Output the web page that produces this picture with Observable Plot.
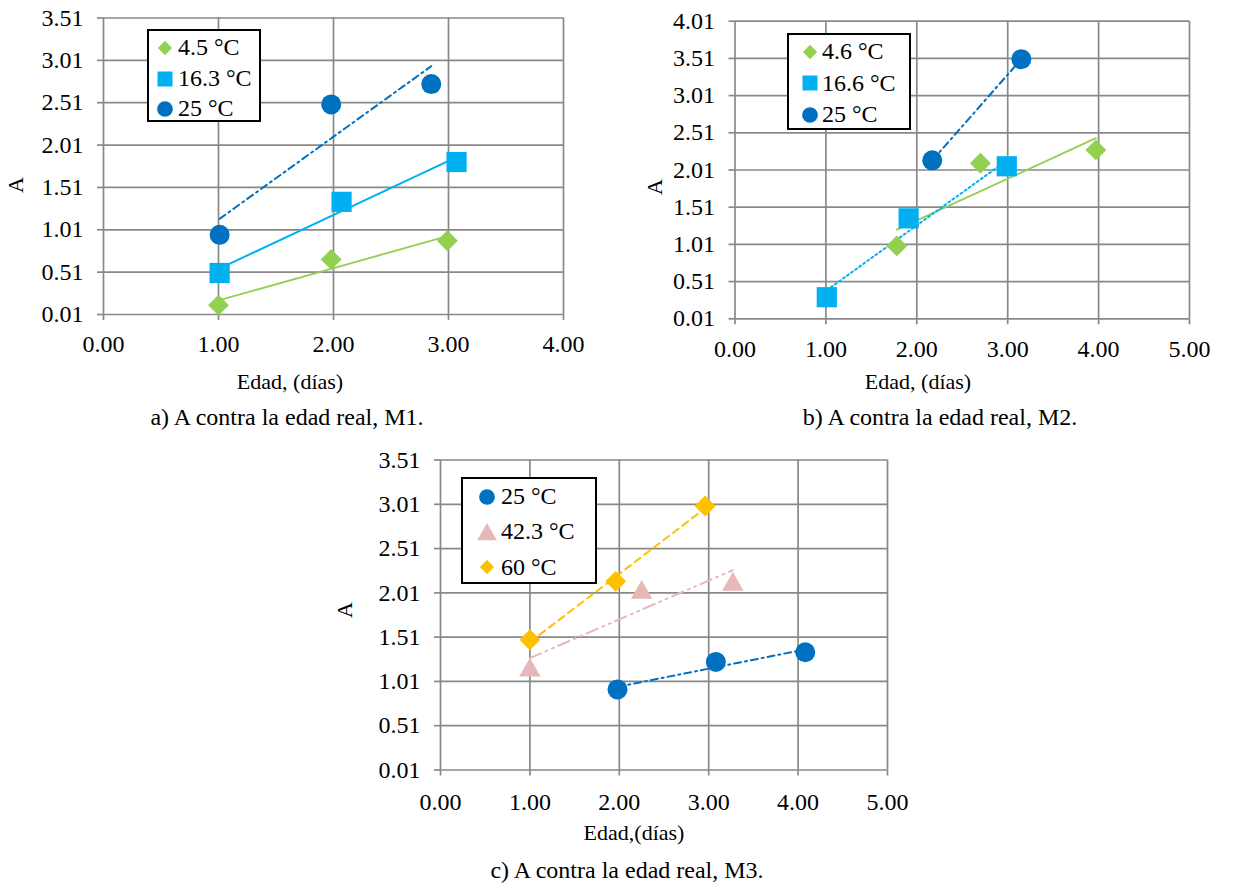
<!DOCTYPE html>
<html><head><meta charset="utf-8">
<script src="https://cdn.jsdelivr.net/npm/d3@7"></script>
<script src="https://cdn.jsdelivr.net/npm/@observablehq/plot@0.6"></script>
<style>
body{margin:0;background:#fff;}
#page{position:relative;width:1241px;height:888px;overflow:hidden;background:#fff;font-family:"Liberation Serif","Times New Roman",serif;color:#000}
#page svg.chart{position:absolute;overflow:visible;max-width:none}
#page svg.chart text{font-family:"Liberation Serif","Times New Roman",serif !important;font-size:24px !important;fill:#000}
.txt{position:absolute;white-space:nowrap;transform:translate(-50%,-50%);line-height:1}
.cap{font-size:24px}
.ttl{font-size:22px}
.rot{transform:translate(-50%,-50%) rotate(-90deg)}
.legend{position:absolute;border:2px solid #000;background:#fff;box-sizing:border-box}
.row{position:absolute;left:0;height:28px;display:flex;align-items:center;font-size:24px;white-space:nowrap;transform:translateY(-50%)}
.row svg{overflow:visible}
</style></head><body><div id="page"></div>
<script>
// ---------- data ----------
// Panel a) M1
const xTicksA = [0, 1, 2, 3, 4];
const yTicksA = [0.01, 0.51, 1.01, 1.51, 2.01, 2.51, 3.01, 3.51];
const a45x = [1.00, 1.98, 2.99];  const a45y = [0.12, 0.66, 0.88];
const a163x = [1.01, 2.07, 3.07]; const a163y = [0.50, 1.34, 1.81];
const a25x = [1.01, 1.98, 2.85];  const a25y = [0.95, 2.49, 2.73];
const legendA = ["4.5 °C", "16.3 °C", "25 °C"];

// Panel b) M2
const xTicksB = [0, 1, 2, 3, 4, 5];
const yTicksB = [0.01, 0.51, 1.01, 1.51, 2.01, 2.51, 3.01, 3.51, 4.01];
const b46x = [1.78, 2.70, 3.97];  const b46y = [0.99, 2.10, 2.28];
const b166x = [1.01, 1.91, 2.99]; const b166y = [0.30, 1.36, 2.06];
const b25x = [2.17, 3.15];        const b25y = [2.14, 3.50];
const legendB = ["4.6 °C", "16.6 °C", "25 °C"];

// Panel c) M3
const xTicksC = [0, 1, 2, 3, 4, 5];
const yTicksC = [0.01, 0.51, 1.01, 1.51, 2.01, 2.51, 3.01, 3.51];
const c25x = [1.98, 3.08, 4.08];  const c25y = [0.92, 1.23, 1.34];
const c423x = [1.00, 2.25, 3.27]; const c423y = [1.17, 2.05, 2.14];
const c60x = [1.00, 1.96, 2.96];  const c60y = [1.48, 2.14, 2.99];
const legendC = ["25 °C", "42.3 °C", "60 °C"];

const captions = ["a) A contra la edad real, M1.", "b) A contra la edad real, M2.", "c) A contra la edad real, M3."];
const xTitles = ["Edad, (días)", "Edad, (días)", "Edad,(días)"];
const yTitle = "A";

// ---------- styles ----------
const GREEN = "#92D050", LBLUE = "#00B0F0", DBLUE = "#0070C0", PINK = "#E6B9B8", GOLD = "#FFC000";
const GRID = "#898989";
const sty = {
  diamond: {symbol: "diamond2", r: 9.4, dy: 0},
  square: {symbol: "square", r: 11.4, dy: 0},
  circle: {symbol: "circle", r: 10, dy: 0},
  triangle: {symbol: "triangle", r: 8, dy: 3.1}
};
const legendSym = {diamond: [d3.symbolDiamond2, 130], square: [d3.symbolSquare, 225],
  circle: [d3.symbolCircle, 194], triangle: [d3.symbolTriangle, 170]};

const zip = (xs, ys) => xs.map((x, i) => ({x, y: ys[i]}));
const fmt = d3.format(".2f");
const page = document.getElementById("page");

function panel(cfg) {
  const {left, top, width, height, ml, mr, mt, mb, xTicks, yTicks, series, xPad, yPad} = cfg;
  const marks = [
    Plot.gridX(xTicks, {stroke: GRID, strokeOpacity: 1, strokeWidth: 1.7}),
    Plot.gridY(yTicks, {stroke: GRID, strokeOpacity: 1, strokeWidth: 1.7}),
    Plot.axisX(xTicks, {tickSize: 6, tickPadding: xPad, stroke: GRID, strokeWidth: 1.7, fill: "#000",
      tickFormat: fmt, label: null}),
    Plot.axisY(yTicks, {tickSize: 6, tickPadding: yPad, stroke: GRID, strokeWidth: 1.7, fill: "#000",
      tickFormat: fmt, label: null})
  ];
  for (const s of series) {
    marks.push(Plot.linearRegressionY(zip(s.x, s.y), {x: "x", y: "y", ci: 0, stroke: s.color,
      strokeWidth: s.sw || 2, strokeDasharray: s.dash || null}));
  }
  for (const s of series) {
    const m = sty[s.mark];
    marks.push(Plot.dot(zip(s.x, s.y), {x: "x", y: "y", symbol: m.symbol, r: m.r, dy: m.dy,
      fill: s.color, stroke: "none"}));
  }
  const svg = Plot.plot({
    width, height, marginLeft: ml, marginRight: mr, marginTop: mt, marginBottom: mb,
    x: {domain: [xTicks[0], xTicks[xTicks.length - 1]], label: null},
    y: {domain: [yTicks[0], yTicks[yTicks.length - 1]], label: null},
    marks
  });
  svg.classList.add("chart");
  svg.style.position = "absolute";
  svg.style.left = left + "px";
  svg.style.top = top + "px";
  svg.style.background = "transparent";
  page.appendChild(svg);
}

function text(str, x, y, cls) {
  const d = document.createElement("div");
  d.className = "txt " + cls;
  d.style.left = x + "px"; d.style.top = y + "px";
  d.textContent = str;
  page.appendChild(d);
}

function legend(cfg) {
  const {left, top, width, height, rowsY, mx, tx, items} = cfg;
  const box = document.createElement("div");
  box.className = "legend";
  Object.assign(box.style, {left: left + "px", top: top + "px", width: width + "px", height: height + "px"});
  items.forEach((it, i) => {
    const row = document.createElement("div");
    row.className = "row";
    row.style.top = rowsY[i] + "px";
    const sv = d3.create("svg").attr("width", tx).attr("height", 20).attr("viewBox", `0 -10 ${tx} 20`);
    const [sym, size] = legendSym[it.mark];
    sv.append("path").attr("transform", `translate(${mx},${it.mark === "triangle" ? 2.5 : 0})`)
      .attr("d", d3.symbol(sym, size)())
      .attr("fill", it.color);
    row.appendChild(sv.node());
    const t = document.createElement("span");
    t.textContent = it.label;
    row.appendChild(t);
    box.appendChild(row);
  });
  page.appendChild(box);
}

// ---------- panel a ----------
panel({left: 0, top: 0, width: 600, height: 370, ml: 103, mr: 37, mt: 17.5, mb: 56, xPad: 14, yPad: 14,
  xTicks: xTicksA, yTicks: yTicksA, series: [
    {x: a45x, y: a45y, color: GREEN, mark: "diamond", sw: 1.8},
    {x: a163x, y: a163y, color: LBLUE, mark: "square", sw: 2},
    {x: a25x, y: a25y, color: DBLUE, mark: "circle", sw: 2, dash: "7,4,2,4"}
  ]});
legend({left: 147, top: 29, width: 114, height: 93, rowsY: [16.5, 47.5, 77.5], mx: 16, tx: 29,
  items: [{label: legendA[0], color: GREEN, mark: "diamond"}, {label: legendA[1], color: LBLUE, mark: "square"},
          {label: legendA[2], color: DBLUE, mark: "circle"}]});
text(yTitle, 16, 185, "ttl rot");
text(xTitles[0], 290, 382, "ttl");
text(captions[0], 287, 417, "cap");

// ---------- panel b ----------
panel({left: 640, top: 0, width: 600, height: 370, ml: 94.5, mr: 51, mt: 20.7, mb: 51.7, xPad: 15, yPad: 14,
  xTicks: xTicksB, yTicks: yTicksB, series: [
    {x: b46x, y: b46y, color: GREEN, mark: "diamond", sw: 1.8},
    {x: b166x, y: b166y, color: LBLUE, mark: "square", sw: 2, dash: "2,3"},
    {x: b25x, y: b25y, color: DBLUE, mark: "circle", sw: 2, dash: "7,4,2,4"}
  ]});
legend({left: 787, top: 33, width: 124, height: 97, rowsY: [16.5, 48, 79.5], mx: 21, tx: 33,
  items: [{label: legendB[0], color: GREEN, mark: "diamond"}, {label: legendB[1], color: LBLUE, mark: "square"},
          {label: legendB[2], color: DBLUE, mark: "circle"}]});
text(yTitle, 655, 187, "ttl rot");
text(xTitles[1], 918, 382, "ttl");
text(captions[1], 940, 417, "cap");

// ---------- panel c ----------
panel({left: 330, top: 440, width: 600, height: 370, ml: 110, mr: 43, mt: 19.5, mb: 40.5, xPad: 17, yPad: 14,
  xTicks: xTicksC, yTicks: yTicksC, series: [
    {x: c25x, y: c25y, color: DBLUE, mark: "circle", sw: 2, dash: "7,4,2,4"},
    {x: c423x, y: c423y, color: PINK, mark: "triangle", sw: 2, dash: "12,5,2,5,2,5"},
    {x: c60x, y: c60y, color: GOLD, mark: "diamond", sw: 2, dash: "7,5"}
  ]});
legend({left: 461, top: 477, width: 136, height: 107, rowsY: [17.5, 52.5, 88], mx: 24, tx: 38,
  items: [{label: legendC[0], color: DBLUE, mark: "circle"}, {label: legendC[1], color: PINK, mark: "triangle"},
          {label: legendC[2], color: GOLD, mark: "diamond"}]});
text(yTitle, 345, 610, "ttl rot");
text(xTitles[2], 634, 833, "ttl");
text(captions[2], 627, 870, "cap");
</script></body></html>
